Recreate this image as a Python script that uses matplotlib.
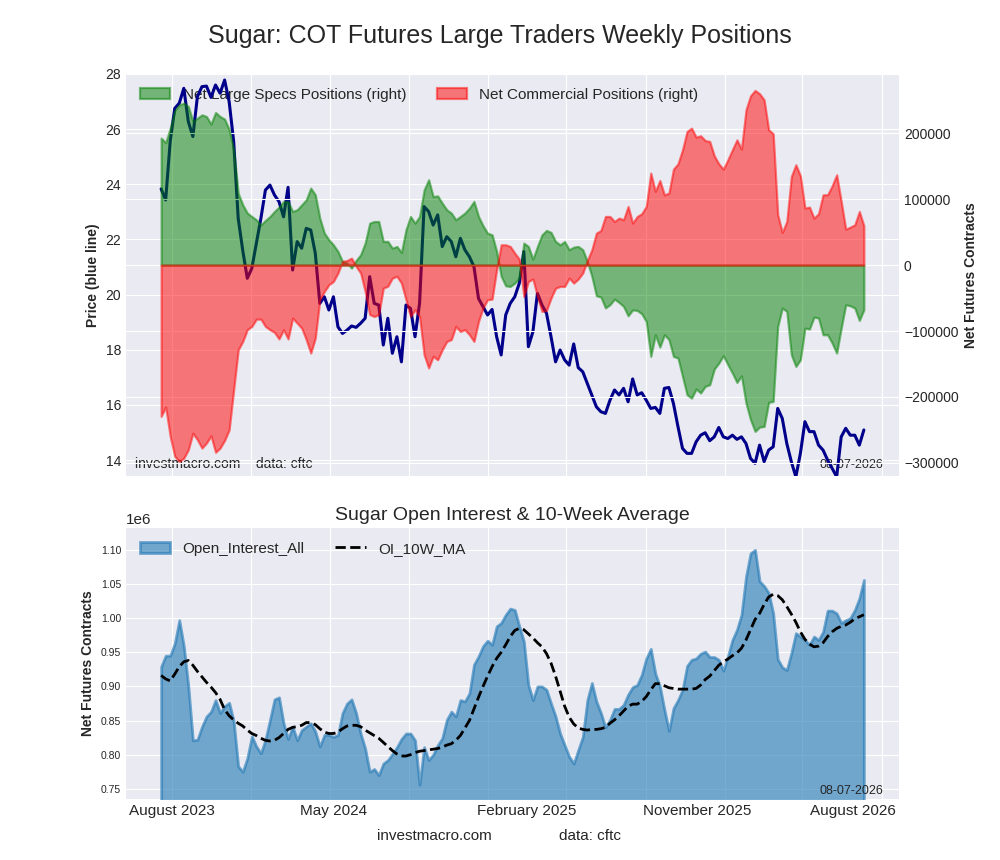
import numpy as np
import pandas as pd
import matplotlib
matplotlib.use("Agg")
import matplotlib.pyplot as plt
import matplotlib.dates as mdates

plt.style.use('seaborn-v0_8-darkgrid')
plt.rcParams['font.family'] = ['Liberation Sans', 'DejaVu Sans']

# weekly report dates (Tuesdays)
dates = pd.date_range('2023-08-15', periods=156, freq='7D')

# sugar price (blue line)
price = [
    23.83, 23.43, 25.55, 26.75, 26.94, 27.48, 26.27, 25.73, 27.18, 27.54,
    27.56, 27.15, 27.60, 27.30, 27.78, 27.00, 25.55, 22.76, 21.60, 20.59,
    20.95, 21.86, 22.76, 23.79, 23.97, 23.61, 23.37, 22.82, 23.89, 20.89,
    21.92, 21.68, 22.40, 22.34, 21.50, 19.68, 19.92, 19.44, 19.92, 18.83,
    18.59, 18.71, 18.86, 18.81, 18.96, 19.14, 20.65, 19.68, 19.62, 18.17,
    19.14, 17.87, 18.47, 17.56, 19.62, 19.50, 18.47, 19.68, 23.19, 23.01,
    22.52, 22.89, 21.74, 22.10, 21.92, 21.37, 22.04, 21.62, 21.37, 21.01,
    19.86, 19.56, 19.26, 19.46, 18.47, 17.81, 19.26, 19.68, 19.92, 20.41,
    21.56, 18.11, 18.65, 20.04, 19.62, 19.32, 18.47, 17.56, 17.99, 17.63,
    17.44, 18.21, 17.35, 17.20, 16.78, 16.36, 15.93, 15.75, 15.69, 16.17,
    16.54, 16.36, 16.60, 16.11, 16.94, 16.36, 16.44, 16.17, 15.87, 15.91,
    15.69, 16.60, 16.63, 16.05, 15.21, 14.42, 14.24, 14.24, 14.66, 14.90,
    14.99, 14.70, 14.84, 15.18, 14.84, 14.78, 14.90, 14.75, 14.84, 14.60,
    14.06, 13.88, 14.54, 13.94, 14.36, 14.48, 15.87, 15.51, 14.60, 13.94,
    13.39, 14.24, 15.39, 15.03, 15.03, 14.54, 14.36, 14.00, 13.70, 13.39,
    14.84, 15.15, 14.90, 14.90, 14.54, 15.09,
]

# net large specs positions, thousands of contracts
specs_k = [
    192.7, 186.0, 207.8, 234.6, 243.0, 245.8, 240.7, 218.0, 223.0, 228.0,
    225.5, 214.0, 231.6, 225.5, 221.5, 206.0, 175.0, 109.0, 91.5, 79.0,
    73.8, 68.8, 61.0, 67.8, 73.8, 81.4, 88.0, 96.6, 96.6, 81.4,
    84.0, 91.5, 99.0, 116.8, 106.7, 71.3, 48.5, 38.4, 30.8, 20.7,
    5.6, 3.0, -4.6, 7.0, 15.7, 33.4, 63.7, 66.2, 66.2, 35.9,
    35.9, 25.8, 28.3, 19.2, 53.6, 73.8, 63.7, 73.8, 114.0, 129.5,
    104.0, 105.0, 94.0, 84.0, 79.0, 68.8, 73.8, 79.0, 86.5, 96.6,
    73.8, 59.7, 48.5, 46.0, 20.7, -17.0, -31.4, -32.4, -27.3, -19.7,
    33.4, 28.3, 9.1, 28.3, 46.0, 52.6, 49.6, 35.9, 30.8, 35.9,
    23.3, 27.3, 28.3, 23.3, 5.6, -17.0, -46.5, -48.5, -65.0, -60.0,
    -51.6, -56.6, -62.7, -76.9, -68.0, -68.8, -73.8, -85.5, -138.5, -105.7,
    -124.4, -105.7, -113.0, -138.5, -141.0, -169.0, -196.7, -201.8, -188.0, -194.0,
    -184.0, -181.5, -157.8, -148.7, -137.5, -151.0, -163.8, -178.0, -168.0, -209.4,
    -234.6, -252.3, -245.8, -244.8, -208.3, -206.8, -93.0, -65.2, -70.3, -136.0,
    -153.7, -143.6, -95.6, -97.0, -78.9, -80.4, -105.7, -105.7, -118.3, -133.5,
    -95.6, -60.2, -61.7, -65.2, -84.0, -67.8,
]

# net commercial positions, thousands of contracts
comm_k = [
    -229.6, -215.4, -260.0, -290.0, -298.0, -293.0, -280.0, -255.0, -265.0, -277.6,
    -270.0, -259.0, -284.0, -277.6, -266.0, -250.0, -189.0, -128.5, -115.8, -98.0,
    -93.0, -82.0, -82.0, -93.0, -98.0, -102.0, -112.0, -98.0, -112.0, -80.4,
    -88.0, -95.6, -113.0, -133.5, -110.7, -52.6, -40.0, -29.8, -24.8, -12.0,
    5.6, 7.0, 10.6, -2.0, -12.0, -40.0, -75.0, -78.0, -75.0, -35.0,
    -32.0, -19.7, -17.0, -27.3, -52.6, -77.9, -67.8, -77.9, -136.0, -156.0,
    -138.5, -143.6, -128.5, -115.8, -113.0, -93.0, -100.6, -98.0, -105.7, -115.8,
    -85.5, -65.0, -52.6, -51.6, -7.0, 30.8, 30.8, 28.3, 18.2, 9.1,
    -47.5, -24.8, -21.2, -47.5, -70.3, -68.8, -50.0, -35.0, -32.4, -32.4,
    -19.7, -27.3, -21.2, -12.0, 7.0, 23.3, 48.5, 52.6, 73.8, 73.8,
    66.2, 71.3, 68.8, 89.0, 63.7, 73.8, 77.9, 89.0, 139.6, 111.8,
    128.4, 106.7, 109.2, 145.6, 153.7, 175.0, 202.8, 207.8, 194.2, 196.2,
    189.0, 187.6, 165.9, 153.7, 145.6, 159.8, 175.0, 190.0, 176.0, 235.7,
    256.9, 265.0, 260.0, 250.8, 205.3, 199.2, 76.4, 49.6, 66.2, 134.5,
    152.2, 135.5, 86.5, 88.0, 71.3, 77.9, 106.7, 106.7, 120.3, 137.0,
    96.6, 54.6, 57.6, 61.2, 81.4, 59.7,
]

# open interest, thousands of contracts
oi_k = [
    929, 945, 945, 963, 997, 959, 900, 821, 822, 841,
    856, 863, 880, 861, 871, 876, 849, 783, 775, 795,
    827, 812, 802, 822, 851, 881, 884, 846, 823, 841,
    821, 836, 841, 846, 834, 812, 829, 829, 826, 829,
    861, 875, 881, 861, 831, 809, 775, 779, 770, 787,
    792, 801, 811, 823, 831, 831, 821, 756, 811, 792,
    800, 814, 824, 851, 863, 856, 880, 878, 890, 932,
    944, 959, 967, 961, 988, 993, 1005, 1014, 1012, 988,
    966, 902, 880, 900, 900, 895, 875, 856, 831, 814,
    797, 787, 807, 826, 880, 905, 878, 861, 840, 851,
    867, 867, 873, 888, 899, 902, 917, 941, 955, 919,
    900, 866, 835, 868, 880, 895, 930, 939, 941, 948,
    951, 943, 943, 939, 923, 944, 968, 983, 1005, 1061,
    1095, 1100, 1054, 1047, 1037, 1007, 940, 928, 924, 949,
    978, 973, 968, 961, 973, 968, 980, 1011, 1011, 1007,
    993, 997, 1000, 1012, 1029, 1056,
]

# 10-week average of open interest, thousands of contracts
ma_k = [
    916, 911, 908, 918, 929, 936, 938, 931, 922, 914,
    906, 899, 891, 881, 866, 857, 851, 846, 842, 836,
    831, 828, 824, 821, 820, 821, 825, 831, 837, 840,
    841, 843, 847, 847, 844, 838, 833, 831, 831, 833,
    838, 842, 843, 843, 841, 836, 832, 828, 824, 818,
    812, 806, 801, 798, 798, 800, 803, 805, 806, 807,
    808, 809, 811, 814, 816, 821, 828, 839, 850, 867,
    884, 900, 915, 929, 941, 950, 961, 973, 982, 985,
    983, 977, 971, 964, 958, 948, 934, 915, 893, 871,
    855, 845, 839, 837, 836, 837, 837, 838, 840, 846,
    851, 857, 864, 871, 874, 874, 878, 885, 895, 904,
    904, 901, 898, 897, 896, 896, 896, 896, 897, 902,
    910, 915, 923, 931, 936, 940, 945, 949, 956, 968,
    983, 998, 1007, 1020, 1031, 1035, 1033, 1027, 1017, 1006,
    994, 980, 969, 962, 958, 959, 964, 973, 980, 985,
    988, 990, 994, 999, 1002, 1005,
]

# bottom axis labels
label_dates = pd.to_datetime(['2023-09-01', '2024-05-07', '2025-03-01',
                              '2025-11-20', '2026-07-18'])
label_text = ['August 2023', 'May 2024', 'February 2025', 'November 2025', 'August 2026']

specs = np.array(specs_k) * 1000
comm = np.array(comm_k) * 1000
oi = np.array(oi_k) * 1000
ma = np.array(ma_k) * 1000

fig = plt.figure(figsize=(10, 8.6), dpi=100)
fig.suptitle('Sugar: COT Futures Large Traders Weekly Positions', fontsize=18, y=0.972)

# --- top panel: price + net positions
ax1 = fig.add_axes([0.126, 0.4465, 0.773, 0.4675])
ax2 = ax1.twinx()

ax1.plot(dates, price, color='darkblue', lw=2.2, zorder=6)
ax1.set_ylim(13.42, 28.0)
ax1.set_yticks(np.arange(14, 29, 2))
ax1.set_ylabel('Price (blue line)', fontsize=10, fontweight='bold')

f1 = ax2.fill_between(dates, specs, 0, color='green', alpha=0.5, lw=1.6,
                      label='Net Large Specs Positions (right)')
f2 = ax2.fill_between(dates, comm, 0, color='red', alpha=0.5, lw=1.6,
                      label='Net Commercial Positions (right)')
ax2.set_ylim(-320000, 290000)
ax2.set_ylabel('Net Futures Contracts', fontsize=10, fontweight='bold')

for a in (ax1, ax2):
    a.xaxis.set_major_locator(mdates.MonthLocator(bymonth=[1, 5, 9]))
    a.tick_params(labelbottom=False, length=0, labelsize=10)

ax1.legend(handles=[f1, f2], loc='upper left', ncol=2, fontsize=11)
ax1.text(0.012, 0.012, 'investmacro.com    data: cftc', transform=ax1.transAxes,
         fontsize=10, ha='left', va='bottom')
ax1.text(0.98, 0.012, '08-07-2026', transform=ax1.transAxes,
         fontsize=9, ha='right', va='bottom')

# --- bottom panel: open interest
ax3 = fig.add_axes([0.126, 0.0709, 0.773, 0.3151])
ax3.fill_between(dates, oi, color='#1f77b4', alpha=0.6, lw=2, label='Open_Interest_All')
ax3.plot(dates, ma, color='black', ls='--', lw=2, label='OI_10W_MA')
ax3.set_ylim(735000, 1132000)
ax3.set_yticks(np.arange(750000, 1100001, 50000))
ax3.set_xlim(ax1.get_xlim())
ax3.xaxis.remove_overlapping_locs = False
ax3.xaxis.set_major_locator(mdates.MonthLocator(bymonth=[1, 5, 9]))
ax3.xaxis.set_major_formatter(plt.NullFormatter())
ax3.set_xticks(label_dates, labels=label_text, minor=True)
ax3.tick_params(axis='x', which='both', length=0, labelsize=11)
ax3.tick_params(axis='y', length=0, labelsize=7.5)
ax3.yaxis.get_offset_text().set_fontsize(11)
ax3.set_ylabel('Net Futures Contracts', fontsize=10, fontweight='bold')
ax3.set_title('Sugar Open Interest & 10-Week Average', fontsize=14)
ax3.legend(loc='upper left', ncol=2, fontsize=11)
ax3.text(0.98, 0.008, '08-07-2026', transform=ax3.transAxes,
         fontsize=9, ha='right', va='bottom')

fig.text(0.4345, 0.028, 'investmacro.com', fontsize=11, ha='center', va='center')
fig.text(0.590, 0.028, 'data: cftc', fontsize=11, ha='center', va='center')

fig.savefig('out.png', dpi=100)
